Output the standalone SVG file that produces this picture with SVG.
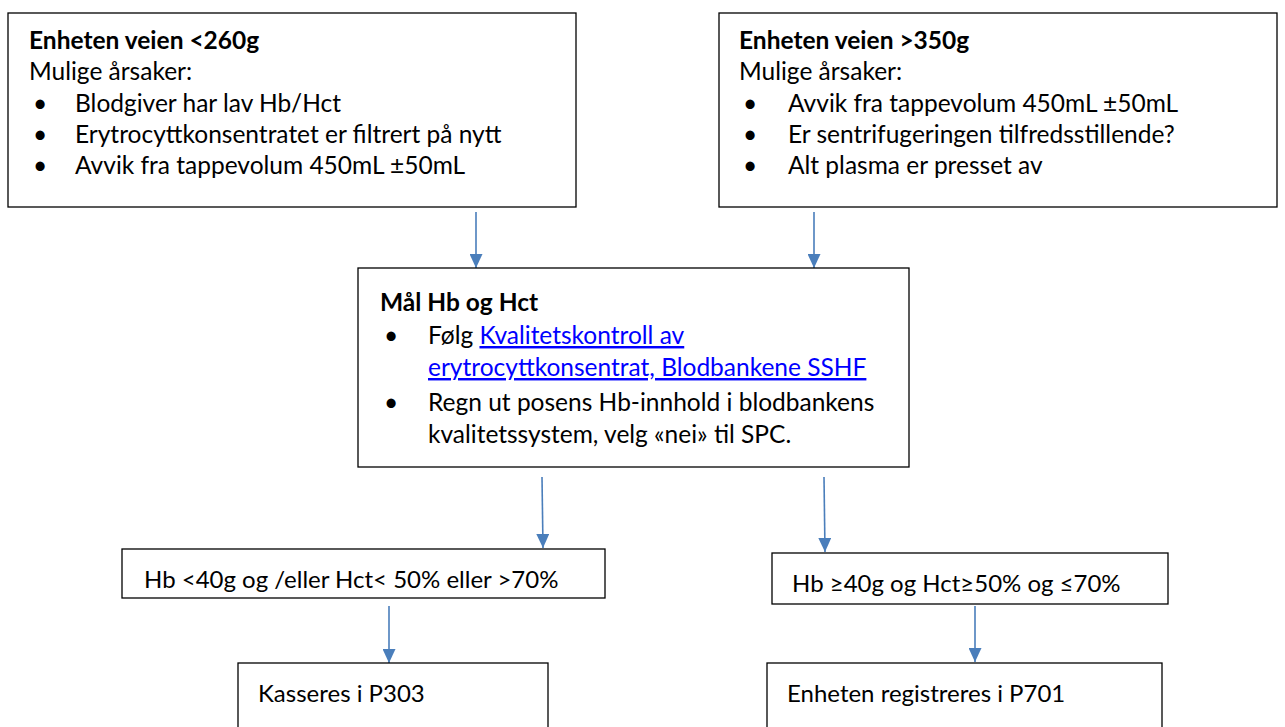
<svg xmlns="http://www.w3.org/2000/svg" width="1285" height="727" viewBox="0 0 1285 727">
<style>
.box{fill:#fff;stroke:#000;stroke-width:1.3}
text{font-family:Lato,"Liberation Sans",sans-serif;font-size:24.5px;fill:#000}
.sm{font-size:24px}
.b{font-weight:bold}
.lnk{fill:#0000ff;text-decoration:underline}
.con{stroke:#4a7ebb;stroke-width:1.6;fill:none}
</style>
<defs>
<marker id="ah" viewBox="0 0 14 13" refX="14" refY="6.5" markerWidth="14" markerHeight="13" markerUnits="userSpaceOnUse" orient="auto">
<path d="M0,0 L14,6.5 L0,13 z" fill="#4a7ebb"/>
</marker>
</defs>
<rect width="1285" height="727" fill="#fff"/>
<g id="connectors">
<line class="con" x1="476" y1="212" x2="476" y2="268" marker-end="url(#ah)"/>
<line class="con" x1="814" y1="212" x2="814" y2="268" marker-end="url(#ah)"/>
<line class="con" x1="542" y1="477" x2="543" y2="548" marker-end="url(#ah)"/>
<line class="con" x1="824" y1="477" x2="825" y2="552" marker-end="url(#ah)"/>
<line class="con" x1="389" y1="606" x2="389" y2="663" marker-end="url(#ah)"/>
<line class="con" x1="975" y1="606" x2="975" y2="662" marker-end="url(#ah)"/>
</g>
<g id="n1">
<rect class="box" x="8" y="13" width="568" height="194"/>
<text class="b" x="29" y="49">Enheten veien &lt;260g</text>
<text x="29" y="80">Mulige årsaker:</text>
<text x="33" y="112">•</text><text x="75" y="112">Blodgiver har lav Hb/Hct</text>
<text x="33" y="143">•</text><text x="75" y="143">Erytrocyttkonsentratet er filtrert på nytt</text>
<text x="33" y="174">•</text><text x="75" y="174">Avvik fra tappevolum 450mL ±50mL</text>
</g>
<g id="n2">
<rect class="box" x="719" y="13" width="558" height="194"/>
<text class="b" x="739" y="49">Enheten veien &gt;350g</text>
<text x="739" y="80">Mulige årsaker:</text>
<text x="743" y="112">•</text><text x="788" y="112">Avvik fra tappevolum 450mL ±50mL</text>
<text x="743" y="143">•</text><text x="788" y="143">Er sentrifugeringen tilfredsstillende?</text>
<text x="743" y="174">•</text><text x="788" y="174">Alt plasma er presset av</text>
</g>
<g id="n3">
<rect class="box" x="358" y="268" width="551" height="199"/>
<text class="b" x="380" y="311">Mål Hb og Hct</text>
<text x="384" y="344">•</text><text x="428" y="344">Følg <tspan class="lnk">Kvalitetskontroll av</tspan></text>
<text class="lnk" x="428" y="376">erytrocyttkonsentrat, Blodbankene SSHF</text>
<text x="384" y="411">•</text><text x="428" y="411">Regn ut posens Hb-innhold i blodbankens</text>
<text x="428" y="443">kvalitetssystem, velg «nei» til SPC.</text>
</g>
<g id="n4">
<rect class="box" x="122" y="549" width="483" height="49"/>
<text class="sm" x="144" y="588">Hb &lt;40g og /eller Hct&lt; 50% eller &gt;70%</text>
</g>
<g id="n5">
<rect class="box" x="772" y="553" width="396" height="51"/>
<text class="sm" x="792" y="592">Hb ≥40g og Hct≥50% og ≤70%</text>
</g>
<g id="n6">
<rect class="box" x="238" y="663" width="310" height="90"/>
<text class="sm" x="258" y="702">Kasseres i P303</text>
</g>
<g id="n7">
<rect class="box" x="767" y="663" width="395" height="90"/>
<text class="sm" x="787" y="702">Enheten registreres i P701</text>
</g>
</svg>
